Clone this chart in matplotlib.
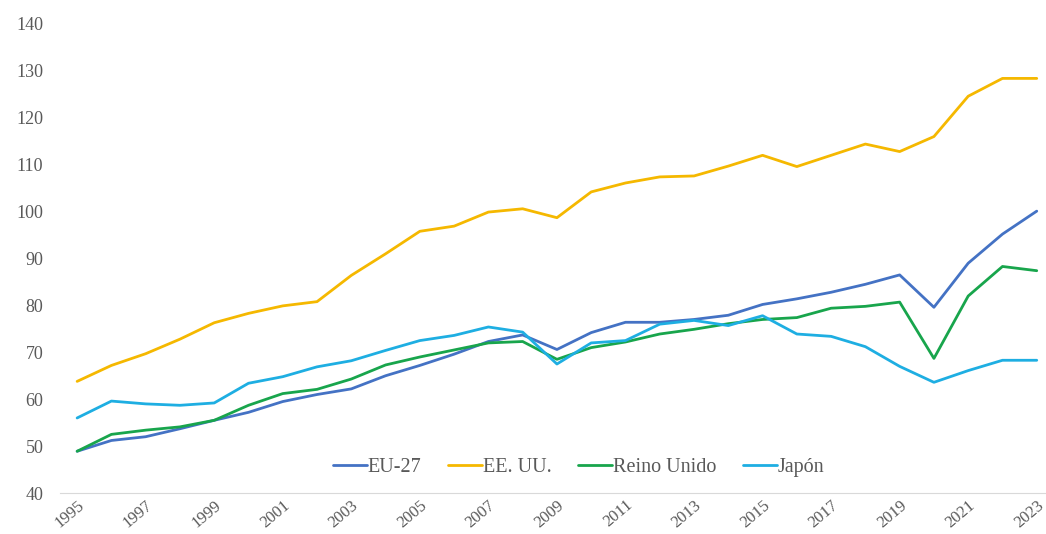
import matplotlib
matplotlib.use("Agg")
import matplotlib.pyplot as plt

years = list(range(1995, 2024))

eu27 = [48.9, 51.2, 52.0, 53.7, 55.5, 57.2, 59.5, 61.0, 62.2, 65.0, 67.2, 69.6, 72.3, 73.7,
        70.6, 74.2, 76.4, 76.4, 77.0, 77.9, 80.2, 81.4, 82.8, 84.5, 86.5, 79.6, 89.0, 95.2, 100.1]
eeuu = [63.8, 67.2, 69.7, 72.8, 76.3, 78.3, 79.9, 80.8, 86.4, 91.0, 95.8, 96.9, 99.9, 100.6,
        98.7, 104.2, 106.1, 107.4, 107.6, 109.7, 112.0, 109.6, 112.0, 114.4, 112.8, 116.0, 124.6, 128.4, 128.4]
reino_unido = [48.9, 52.5, 53.4, 54.1, 55.5, 58.7, 61.2, 62.1, 64.3, 67.3, 69.0, 70.5, 72.0, 72.3,
               68.5, 71.0, 72.2, 73.9, 74.9, 76.1, 77.0, 77.4, 79.4, 79.8, 80.7, 68.7, 82.0, 88.3, 87.4]
japon = [56.0, 59.6, 59.0, 58.7, 59.2, 63.4, 64.8, 66.9, 68.2, 70.4, 72.5, 73.6, 75.4, 74.3,
         67.5, 72.0, 72.5, 76.0, 76.8, 75.7, 77.8, 73.9, 73.4, 71.2, 67.0, 63.6, 66.1, 68.3, 68.3]

series = [("EU-27", eu27, "#4472C4"),
          ("EE. UU.", eeuu, "#F5B800"),
          ("Reino Unido", reino_unido, "#18A54C"),
          ("Japón", japon, "#1EAEE2")]

plt.rcParams['font.family'] = ['Liberation Serif', 'DejaVu Serif']

fig = plt.figure(figsize=(10.46, 5.34), dpi=100)
ax = fig.add_axes([60 / 1046, 41 / 534, 986 / 1046, 469 / 534])

for name, vals, col in series:
    ax.plot(years, vals, color=col, linewidth=2.0, label=name, solid_capstyle='round')

ax.set_xlim(1994.5, 2023.27)
ax.set_ylim(40, 140)
ax.set_yticks(range(40, 141, 10))
ax.set_xticks(range(1995, 2024, 2))
ax.set_xticklabels([str(y) for y in range(1995, 2024, 2)], rotation=40,
                   ha='right', rotation_mode='anchor')

for s in ['top', 'right', 'left']:
    ax.spines[s].set_visible(False)
ax.spines['bottom'].set_color('#D9D9D9')
ax.tick_params(axis='both', length=0, colors='#595959')
ax.tick_params(axis='y', pad=12, labelsize=13)
ax.tick_params(axis='x', pad=3, labelsize=12)

leg = ax.legend(loc='center', bbox_to_anchor=(0.526, 0.055), ncol=4, frameon=False,
                fontsize=14.5, handlelength=1.7, handletextpad=0.05, columnspacing=1.3)
for t in leg.get_texts():
    t.set_color('#595959')

fig.savefig("out.png", dpi=100, facecolor='white')
